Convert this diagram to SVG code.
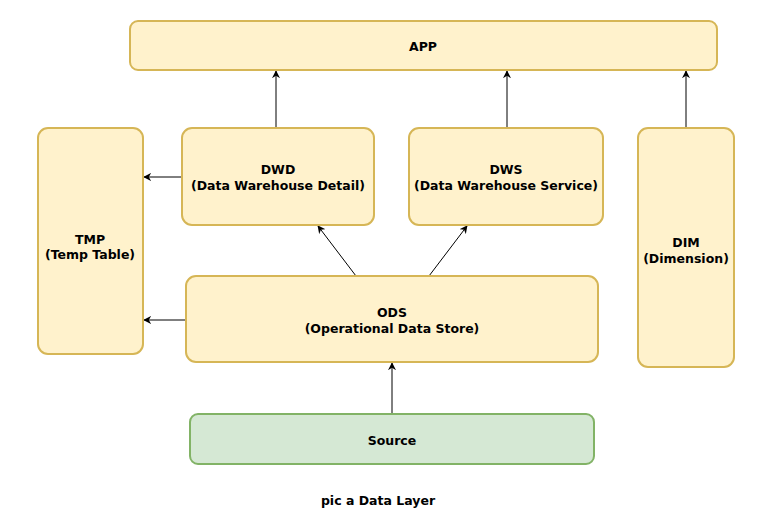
<svg xmlns="http://www.w3.org/2000/svg" width="774" height="518" viewBox="0 0 774 518">
  <style>
    .box { fill: #fff2cc; stroke: #d6b656; stroke-width: 2; }
    .src { fill: #d5e8d4; stroke: #82b366; stroke-width: 2; }
    .lbl { font-family: "Comic Sans MS", "DejaVu Sans", sans-serif; font-size: 12.5px; font-weight: bold; fill: #000; text-anchor: middle; }
    .edge { stroke: #000; stroke-width: 1; fill: none; marker-end: url(#arrow); }
  </style>
  <defs>
    <marker id="arrow" viewBox="0 0 10 10" refX="9" refY="5" markerWidth="8" markerHeight="8" orient="auto" markerUnits="userSpaceOnUse">
      <path d="M0,0 L10,5 L0,10 L3,5 Z" fill="#000"/>
    </marker>
  </defs>
  <rect width="774" height="518" fill="#ffffff"/>

  <g id="connectors">
    <line class="edge" x1="276" y1="128" x2="276" y2="71"/>
    <line class="edge" x1="507" y1="128" x2="507" y2="71"/>
    <line class="edge" x1="686" y1="128" x2="686" y2="71"/>
    <line class="edge" x1="182" y1="177" x2="144" y2="177"/>
    <line class="edge" x1="186" y1="320" x2="144" y2="320"/>
    <line class="edge" x1="356" y1="276" x2="318" y2="226"/>
    <line class="edge" x1="429" y1="276" x2="467" y2="226"/>
    <line class="edge" x1="392" y1="414" x2="392" y2="363"/>
  </g>

  <g id="app">
    <rect class="box" x="130" y="21" width="587" height="49" rx="8"/>
    <text class="lbl" x="423" y="51">APP</text>
  </g>

  <g id="tmp">
    <rect class="box" x="38" y="128" width="105" height="226" rx="10"/>
    <text class="lbl" x="90" y="244">TMP</text>
    <text class="lbl" x="90" y="259">(Temp Table)</text>
  </g>

  <g id="dwd">
    <rect class="box" x="182" y="128" width="192" height="97" rx="10"/>
    <text class="lbl" x="278" y="174">DWD</text>
    <text class="lbl" x="278" y="190">(Data Warehouse Detail)</text>
  </g>

  <g id="dws">
    <rect class="box" x="409" y="128" width="194" height="97" rx="10"/>
    <text class="lbl" x="506" y="174">DWS</text>
    <text class="lbl" x="506" y="190">(Data Warehouse Service)</text>
  </g>

  <g id="dim">
    <rect class="box" x="638" y="128" width="96" height="239" rx="10"/>
    <text class="lbl" x="686" y="247">DIM</text>
    <text class="lbl" x="686" y="263">(Dimension)</text>
  </g>

  <g id="ods">
    <rect class="box" x="186" y="276" width="412" height="86" rx="10"/>
    <text class="lbl" x="392" y="317">ODS</text>
    <text class="lbl" x="392" y="333">(Operational Data Store)</text>
  </g>

  <g id="source">
    <rect class="src" x="190" y="414" width="404" height="50" rx="8"/>
    <text class="lbl" x="392" y="445">Source</text>
  </g>

  <text class="lbl" x="378" y="505">pic a Data Layer</text>
</svg>
